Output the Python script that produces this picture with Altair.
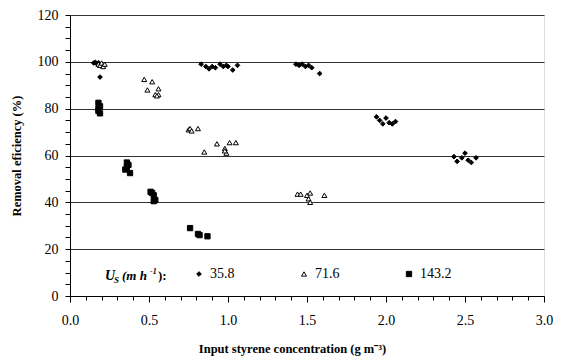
import altair as alt
import pandas as pd

# ---- data ----
us_358_x = [0.15, 0.16, 0.17, 0.18, 0.19, 0.19,
            0.83, 0.86, 0.88, 0.90, 0.92, 0.95, 0.97, 0.99, 1.00, 1.03, 1.06,
            1.43, 1.45, 1.47, 1.49, 1.51, 1.53, 1.58,
            1.94, 1.96, 1.98, 2.00, 2.02, 2.04, 2.06,
            2.43, 2.45, 2.48, 2.50, 2.52, 2.54, 2.57]
us_358_y = [99.5, 99.8, 99.2, 99.6, 98.8, 93.5,
            99.0, 98.0, 97.0, 98.0, 97.5, 99.0, 98.0, 98.5, 98.0, 96.5, 98.5,
            99.0, 98.5, 99.0, 98.0, 98.5, 97.5, 95.0,
            76.5, 75.0, 73.5, 76.0, 74.0, 73.5, 74.5,
            59.5, 57.5, 59.0, 61.0, 58.0, 57.0, 59.0]

us_716_x = [0.18, 0.19, 0.20, 0.21, 0.22,
            0.47, 0.52, 0.49, 0.56, 0.54, 0.56, 0.55,
            0.75, 0.76, 0.77, 0.81, 0.85, 0.93, 0.98, 0.99, 1.01, 1.05, 0.98,
            1.44, 1.46, 1.50, 1.52, 1.51, 1.52, 1.61]
us_716_y = [99.0, 98.5, 99.5, 98.0, 99.0,
            92.5, 91.5, 88.0, 88.5, 86.0, 86.0, 85.5,
            71.0, 71.5, 70.5, 71.5, 61.5, 65.0, 63.0, 61.0, 65.5, 65.5, 62.0,
            43.5, 43.5, 43.0, 44.0, 41.5, 40.0, 43.0]

us_1432_x = [0.18, 0.18, 0.19, 0.18, 0.19,
             0.36, 0.36, 0.35, 0.38, 0.37,
             0.51, 0.52, 0.53, 0.54, 0.53,
             0.76, 0.81, 0.82, 0.87]
us_1432_y = [80.0, 82.5, 78.0, 79.0, 81.0,
             57.0, 55.0, 54.0, 52.5, 56.0,
             44.5, 44.0, 43.0, 41.0, 40.5,
             29.0, 26.5, 26.0, 25.5]

series_names = ["35.8", "71.6", "143.2"]
series_shapes = ["diamond", "triangle-up", "square"]
series_fills = ["black", "white", "black"]
series_strokes = ["black", "black", "black"]
series_sizes = [22, 28, 55]

x_tick_values = [round(i * 0.1, 1) for i in range(31)]
y_tick_values = list(range(0, 125, 5))

rows = []
for name, xs, ys in zip(series_names,
                        [us_358_x, us_716_x, us_1432_x],
                        [us_358_y, us_716_y, us_1432_y]):
    for a, b in zip(xs, ys):
        rows.append({"x": a, "y": b, "us": name})
df = pd.DataFrame(rows)

FONT = "Liberation Serif"

legend_spec = alt.Legend(
    orient="none", legendX=122, legendY=252, direction="horizontal",
    title=None, labelFont=FONT, labelFontSize=14, labelColor="black",
    columnPadding=62, labelOffset=4, padding=0,
    symbolStrokeColor="black", symbolStrokeWidth=1,
)

x_enc = alt.X(
    "x:Q",
    scale=alt.Scale(domain=[0, 3], nice=False, zero=False),
    axis=alt.Axis(
        values=x_tick_values,
        labelExpr="abs(datum.value*2 - round(datum.value*2)) < 1e-6 ? format(datum.value, '.1f') : ''",
        tickSize={"condition": {"test": "abs(datum.value*2 - round(datum.value*2)) < 1e-6", "value": 6}, "value": 4},
        grid=False, domainColor="black", tickColor="black",
        labelFont=FONT, labelFontSize=14, labelColor="black", labelPadding=11,
        labelFlush=False,
        title="Input styrene concentration (g m\u207b\u00b3)",
        titleFont=FONT, titleFontSize=12.5, titleFontWeight="bold", titleColor="black",
        titlePadding=15, titleX=222,
    ),
)
y_enc = alt.Y(
    "y:Q",
    scale=alt.Scale(domain=[0, 120], nice=False),
    axis=alt.Axis(
        values=y_tick_values,
        labelExpr="datum.value % 20 === 0 ? format(datum.value, 'd') : ''",
        tickSize=5, grid=True,
        gridOpacity={"condition": {"test": "datum.value % 20 === 0", "value": 1}, "value": 0},
        gridColor="#333333", gridWidth=1,
        domainColor="black", tickColor="black",
        labelFont=FONT, labelFontSize=14, labelColor="black", labelPadding=7,
        labelFlush=False,
        title="Removal eficiency (%)",
        titleFont=FONT, titleFontSize=12.5, titleFontWeight="bold", titleColor="black",
        titlePadding=14,
    ),
)

points = alt.Chart(df).mark_point(strokeWidth=1, opacity=1, fillOpacity=1).encode(
    x=x_enc,
    y=y_enc,
    shape=alt.Shape("us:N", scale=alt.Scale(domain=series_names, range=series_shapes), legend=legend_spec),
    fill=alt.Fill("us:N", scale=alt.Scale(domain=series_names, range=series_fills), legend=legend_spec),
    stroke=alt.Stroke("us:N", scale=alt.Scale(domain=series_names, range=series_strokes), legend=legend_spec),
    size=alt.Size("us:N", scale=alt.Scale(domain=series_names, range=series_sizes), legend=legend_spec),
)

title_pieces = pd.DataFrame({"t": [0]})
def piece(text, px, py, size, style="italic"):
    return alt.Chart(title_pieces).mark_text(
        text=text, align="left", baseline="alphabetic", font=FONT,
        fontSize=size, fontWeight="bold", fontStyle=style, color="black",
    ).encode(x=alt.value(px), y=alt.value(py))

legend_title = (
    piece("U", 35, 265, 14)
    + piece("S", 44, 268, 9)
    + piece("(m h", 52, 265, 13)
    + piece("-1", 80, 259, 8)
    + piece("):", 88, 265, 13, "normal")
)

chart = alt.layer(points, legend_title).properties(
    width=474, height=281,
    autosize=alt.AutoSizeParams(type="none"),
    padding={"left": 62, "top": 7, "right": 9, "bottom": 60},
).configure_view(stroke="black", strokeWidth=1).configure(background="white")

chart.save("out.html", embed_options={"renderer": "svg", "actions": False})
